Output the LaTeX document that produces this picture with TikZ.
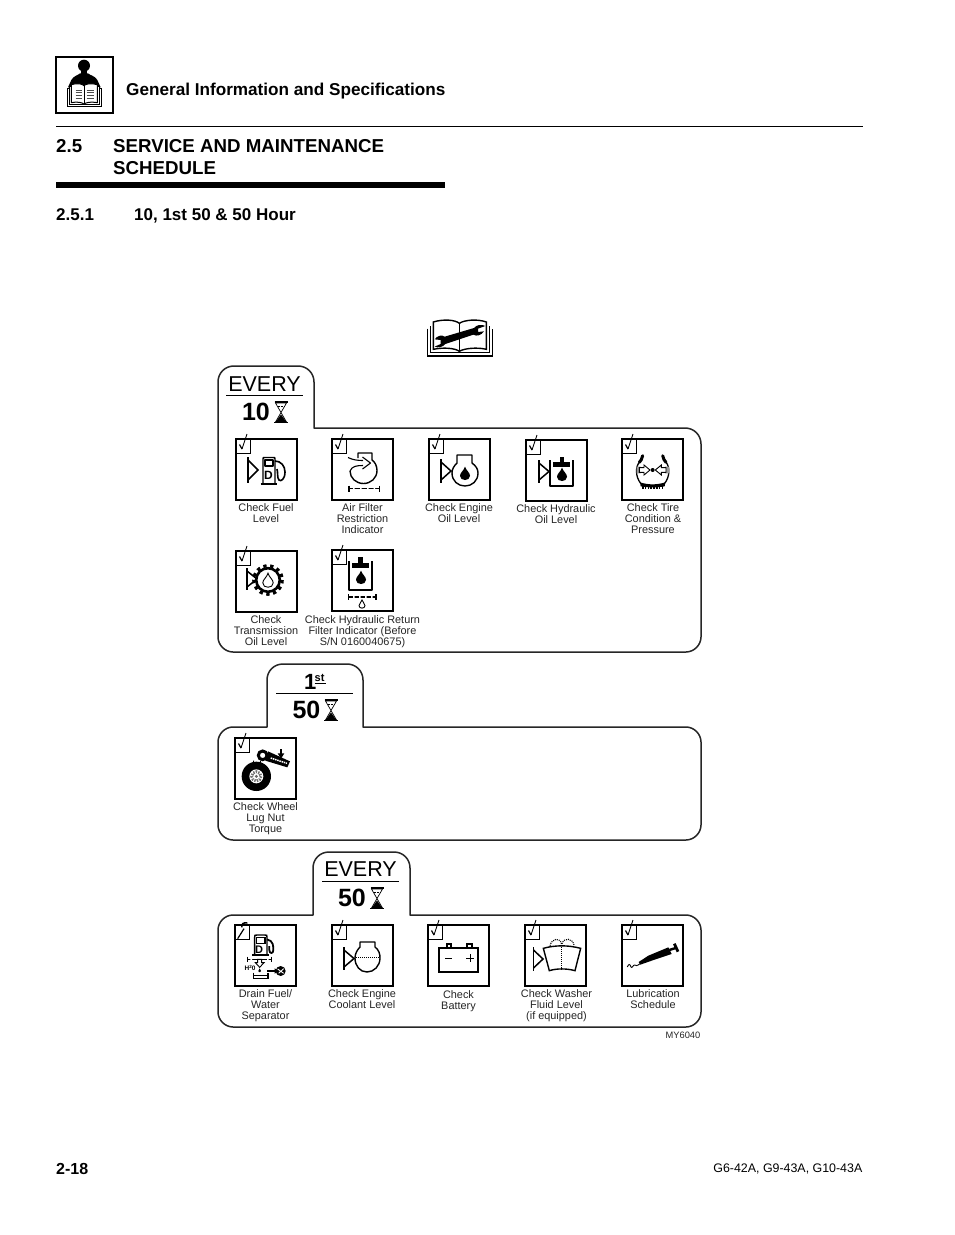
\documentclass[tikz,border=0pt]{standalone}
\usepackage{fontspec}
\setmainfont{Liberation Sans}
\newcommand{\fsz}[1]{\fontsize{#1}{#1}\selectfont}
\tikzset{
  panel/.style={draw=black!85,line width=1.5pt,line join=round},
  iframe/.style={draw=black,line width=1.7pt,fill=white,inner sep=0pt,minimum width=61pt,minimum height=61pt},
  iframeb/.style={iframe,line width=2.4pt},
  chkbox/.style={draw=black,line width=1pt,inner sep=0pt,minimum width=14pt,minimum height=14pt},
  captxt/.style={anchor=north,align=center,inner sep=0pt,text=black!85,font=\fontsize{10.9}{11}\selectfont},
  headtxt/.style={anchor=base west,inner sep=0pt,font=\bfseries\fsz{17}},
  ico/.style={line width=1.4pt,line cap=butt,line join=round},
  blk/.style={fill=black},
  hol/.style={draw=black,line width=0.9pt,fill=white}
}
% icon frame with check box: name, x, y, style
\newcommand{\iconbox}[4]{%
  \node[#4] (#1) at (#2+30.5,#3+30.5) {};
  \node[chkbox] (#1c) at (#2+7,#3+7) {};
}
\newcommand{\tick}[2]{%
  \draw[line width=1.2pt,line join=miter] (#1+3.5,#2+5.5) -- (#1+6,#2+10);
  \draw[line width=0.9pt] (#1+6,#2+10) -- (#1+11,#2-5);
}
\newcommand{\lvl}[4]{% x y1 y2 apex
  \draw[line width=1.8pt] (#1,#2) -- (#1,#3);
  \draw[line width=1.5pt,line join=miter] (#1,#2+3) -- (#4,{(#2+#3)/2}) -- (#1,#3-3);
}
\newcommand{\tear}[4]{%
  \path[#4,shift={(#1,#2)},scale=#3] (0,-1.5) .. controls (0.2,-0.7) and (1,-0.3) .. (1,0.35) .. controls (1,0.95) and (0.5,1.2) .. (0,1.2) .. controls (-0.5,1.2) and (-1,0.95) .. (-1,0.35) .. controls (-1,-0.3) and (-0.2,-0.7) .. (0,-1.5) -- cycle;
}
\newcommand{\hglass}[2]{%
  \draw[line width=1.1pt] (#1-6.5,#2) -- (#1+6.5,#2);
  \fill (#1-7,#2+19.5) rectangle (#1+7,#2+21);
  \draw[line width=0.7pt] (#1-5.5,#2+1) -- (#1+5.5,#2+1) -- (#1-5.5,#2+20) -- (#1+5.5,#2+20) -- cycle;
  \draw[line width=0.6pt,dash pattern=on .8pt off .8pt] (#1-3.5,#2+4) -- (#1+3.5,#2+4);
  \fill (#1,#2+12.5) -- (#1+5.5,#2+20) -- (#1-5.5,#2+20) -- cycle;
}
\begin{document}
\begin{tikzpicture}[x=1pt,y=-1pt]
\useasboundingbox[fill=white] (0,0) rectangle (954,1235);

% ---------- page header ----------
\node[draw=black,line width=1.2pt,minimum width=57pt,minimum height=56pt,inner sep=0pt] (hbox) at (84.5,85) {};
\begin{scope}[shift={(54,54)},scale=1/3]
  \fill (90,35) circle (18);
  \fill (42,100) -- (52,78) .. controls (58,66) and (72,64) .. (78,58) -- (102,58) .. controls (108,64) and (124,66) .. (130,78) -- (140,100) -- cycle;
  \fill (80,45) rectangle (100,60);
  \draw[line width=.7pt,fill=white] (40,103) rectangle (142,158);
  \draw[line width=.7pt,fill=white] (46,97) rectangle (136,152);
  \draw[line width=1pt,fill=white] (52,92) .. controls (70,86) and (85,90) .. (90,95) .. controls (95,90) and (110,86) .. (130,92) -- (130,146) .. controls (110,142) and (95,146) .. (90,150) .. controls (85,146) and (70,142) .. (52,146) -- cycle;
  \draw[line width=.9pt,black!70] (65,108) -- (83,108) (65,116) -- (83,116) (65,124) -- (83,124) (65,132) -- (83,132) (98,108) -- (120,108) (98,116) -- (120,116) (98,124) -- (120,124) (98,132) -- (120,132);
  \draw[line width=.7pt] (90,95) -- (90,150);
\end{scope}
\node[headtxt,font=\bfseries\fsz{17.15}] (t1) at (126,95) {General Information and Specifications};
\coordinate (r1a) at (56,126.5); \coordinate (r1b) at (862.5,126.5);
\draw[line width=0.9pt] (r1a) -- (r1b);
\node[headtxt,font=\bfseries\fsz{18.7}] (t2a) at (56,152) {2.5};
\node[headtxt,font=\bfseries\fsz{18.7}] (t2b) at (113,152) {SERVICE AND MAINTENANCE};
\node[headtxt,font=\bfseries\fsz{18.7}] (t2c) at (113,174.5) {SCHEDULE};
\fill (56,182) rectangle (445,187.5);
\node[headtxt,font=\bfseries\fsz{17}] (t3a) at (56,220.5) {2.5.1};
\node[headtxt,font=\bfseries\fsz{17}] (t3b) at (134,220.5) {10, 1st 50 \& 50 Hour};

% ---------- book + wrench ----------
\begin{scope}[shift={(424,316)},scale=1/3]
  \draw[line width=1.2pt,fill=white] (10,38) -- (10,120) -- (205,120) -- (205,38);
  \draw[line width=1pt,fill=white] (20,30) -- (20,110) -- (195,110) -- (195,30);
  \draw[line width=1.4pt,fill=white] (28,18) .. controls (60,8) and (95,12) .. (106,22) .. controls (120,12) and (160,8) .. (187,18) -- (187,100) .. controls (160,93) and (120,97) .. (106,106) .. controls (95,97) and (60,93) .. (28,100) -- cycle;
  \draw[line width=.9pt] (106,22) -- (106,106);
  \fill (32,70) .. controls (40,58) and (55,56) .. (62,62) -- (150,36) .. controls (158,26) and (172,24) .. (184,30) -- (162,38) -- (162,48) -- (180,46) .. controls (172,58) and (158,62) .. (148,56) -- (64,84) .. controls (56,94) and (42,96) .. (32,92) -- (50,84) -- (50,72) -- cycle;
\end{scope}

% ---------- panel 1 ----------
\draw[panel] (218,600) -- (218,382) .. controls (218,373) and (225,366) .. (234,366) -- (298,366) .. controls (307,366) and (314,373) .. (314,382) -- (314,428) -- (685,428) .. controls (694,428) and (701,435) .. (701,444) -- (701,637) .. controls (701,645) and (694,652) .. (686,652) -- (233,652) .. controls (225,652) and (218,645) .. (218,637) -- cycle;
\node[anchor=base,inner sep=0pt,font=\fsz{21.5}] (e1) at (264.5,391) {EVERY};
\draw[line width=1pt] (226,395.5) -- (303,395.5);
\node[anchor=base,inner sep=0pt,font=\bfseries\fsz{25}] (n10) at (256,420.5) {10};
\hglass{281}{402}

% ---------- panel 2 ----------
\draw[panel] (218,825) -- (218,742) .. controls (218,734) and (225,727) .. (233,727) -- (267,727) -- (267,680) .. controls (267,671) and (274,664) .. (283,664) -- (347,664) .. controls (356,664) and (363,671) .. (363,680) -- (363,727) -- (686,727) .. controls (694,727) and (701,734) .. (701,742) -- (701,825) .. controls (701,833) and (694,840) .. (686,840) -- (233,840) .. controls (225,840) and (218,833) .. (218,825) -- cycle;
\node[anchor=base west,inner sep=0pt,font=\bfseries\fsz{22}] (n1) at (304,689) {1};
\node[anchor=base west,inner sep=0pt,font=\bfseries\fsz{11}] (nst) at (314.5,681.5) {st};
\draw[line width=.9pt] (314.5,683.5) -- (325.5,683.5);
\draw[line width=1.2pt] (276,693.5) -- (353,693.5);
\node[anchor=base,inner sep=0pt,font=\bfseries\fsz{25}] (n50a) at (306.5,718.5) {50};
\hglass{331}{700}

% ---------- panel 3 ----------
\draw[panel] (218,1012) -- (218,930) .. controls (218,922) and (225,915) .. (233,915) -- (313,915) -- (313,868) .. controls (313,859) and (320,852) .. (329,852) -- (394,852) .. controls (403,852) and (410,859) .. (410,868) -- (410,915) -- (686,915) .. controls (694,915) and (701,922) .. (701,930) -- (701,1012) .. controls (701,1020) and (694,1027) .. (686,1027) -- (233,1027) .. controls (225,1027) and (218,1020) .. (218,1012) -- cycle;
\node[anchor=base,inner sep=0pt,font=\fsz{21.5}] (e3) at (360.5,876.5) {EVERY};
\draw[line width=1pt] (322,881.5) -- (399,881.5);
\node[anchor=base,inner sep=0pt,font=\bfseries\fsz{25}] (n50b) at (352,906.5) {50};
\hglass{377}{888}

% ---------- icon frames ----------
\iconbox{i1}{236}{439}{iframe}\tick{236}{439}
\iconbox{i2}{332}{439}{iframe}\tick{332}{439}
\iconbox{i3}{429}{439}{iframe}\tick{429}{439}
\iconbox{i4}{526}{440}{iframe}\tick{526}{440}
\iconbox{i5}{622}{439}{iframe}\tick{622}{439}
\iconbox{i6}{236}{551}{iframe}\tick{236}{551}
\iconbox{i7}{332}{550}{iframe}\tick{332}{550}
\iconbox{i8}{235}{738}{iframeb}\tick{235}{738}
\iconbox{i9}{235}{925}{iframeb}
\iconbox{i10}{332}{925}{iframe}\tick{332}{925}
\iconbox{i11}{428}{925}{iframeb}\tick{428}{925}
\iconbox{i12}{525}{925}{iframe}\tick{525}{925}
\iconbox{i13}{622}{925}{iframe}\tick{622}{925}

% 1 fuel
\lvl{248}{457}{483}{258}
\begin{scope}[ico]
  \draw (263,483) -- (263,459) .. controls (263,457.5) .. (265,457.5) -- (273,457.5) .. controls (275,457.5) .. (275,459) -- (275,483);
  \draw (265,460) rectangle (273,466);
  \draw[line width=2pt] (260.5,483.5) -- (277,483.5);
  \draw[line width=1.6pt] (275,461) .. controls (281,461) and (285,466) .. (285,472) .. controls (285,479) and (281,482) .. (279,480) .. controls (277,478) and (278,472) .. (277,469);
\end{scope}
\node[inner sep=0pt,font=\bfseries\fsz{12}] (d1) at (268.5,475) {D};

% 2 air filter
\begin{scope}[ico]
  \draw (350,471) .. controls (350,478) and (356,483.5) .. (363.5,483.5) .. controls (371,483.5) and (377,478) .. (377,470.5) .. controls (377,466) and (375,462) .. (372,460) -- (372,453) -- (358,453) -- (358,458);
  \draw[line width=1.1pt] (348,457.5) .. controls (353,460) and (358,460.5) .. (363,460.5);
  \draw[line width=1.1pt] (350,471) .. controls (352,466) and (357,465.5) .. (363,465.5);
  \draw[line width=1.1pt] (362.5,457) -- (370.5,463) -- (362.5,469);
  \draw[line width=1.2pt] (349,488.5) -- (379,488.5);
  \draw[line width=1.4pt] (349,485.5) -- (349,491.5) (379.5,485.5) -- (379.5,491.5);
\end{scope}
\fill[white] (353,486.5) rectangle (354.5,490.5) (360,486.5) rectangle (361.5,490.5) (367,486.5) rectangle (368.5,490.5) (373.5,486.5) rectangle (375,490.5);

% 3 engine oil
\lvl{441}{459}{483}{451}
\begin{scope}[ico]
  \draw (457,463) -- (457,455) -- (472,455) -- (472,463) .. controls (476,466) and (478,469) .. (478,473) .. controls (478,481) and (472,486) .. (465,486) .. controls (458,486) and (452,481) .. (452,473) .. controls (452,469) and (454,466) .. (457,463);
\end{scope}
\tear{465}{474}{5}{blk}

% 4 hydraulic
\lvl{539}{460}{483}{549}
\begin{scope}[ico]
  \draw (550,460) -- (550,486) -- (573,486) -- (573,460);
\end{scope}
\fill (553,462) rectangle (570,466.5);
\fill (559.5,456.5) rectangle (564,464);
\tear{562}{475}{5}{blk}

% 5 tire
\begin{scope}[shift={(620,435)},scale=1/3]
  \draw[line width=3pt,line cap=round] (68,62) .. controls (66,72) and (62,78) .. (58,82);
  \draw[line width=3pt,line cap=round] (128,62) .. controls (130,72) and (134,78) .. (138,82);
  \draw[line width=1.3pt] (58,82) .. controls (46,95) and (46,125) .. (62,145);
  \draw[line width=1.3pt] (138,82) .. controls (150,95) and (150,125) .. (134,145);
  \fill (60,142) .. controls (85,150) and (110,150) .. (136,142) -- (134,154) .. controls (110,158) and (85,158) .. (62,154) -- cycle;
  \draw[line width=3pt,dash pattern=on 1.6pt off 1.2pt] (66,158) -- (132,158);
  \fill[black!40] (50,95) rectangle (62,115) (135,95) rectangle (147,115);
  \draw[hol,fill=white] (58,98) -- (72,98) -- (72,90) -- (90,105) -- (72,120) -- (72,112) -- (58,112) -- cycle;
  \draw[hol,fill=white] (138,98) -- (124,98) -- (124,90) -- (106,105) -- (124,120) -- (124,112) -- (138,112) -- cycle;
  \fill (98,105) circle (6);
\end{scope}

% 6 transmission
\lvl{247}{568}{590}{257}
\draw[line width=3.2pt,dash pattern=on 3.3pt off 3.6pt] (268,580) circle (14.2);
\draw[line width=2.6pt,fill=white] (268,580) circle (11.8);
\tear{268}{581}{5.2}{hol}

% 7 hydraulic return
\begin{scope}[ico]
  \draw (349,561) -- (349,590) -- (372,590) -- (372,561);
  \draw[line width=1.1pt] (349,597) -- (376,597);
  \draw (348.5,594) -- (348.5,600) (376,594) -- (376,600);
\end{scope}
\fill (352,563) rectangle (369,567.5);
\fill (358,557) rectangle (363,565);
\tear{361}{578}{5}{blk}
\fill[white] (353,595) rectangle (354.5,599) (359,595) rectangle (360.5,599) (365,595) rectangle (366.5,599) (371,595) rectangle (372.5,599);
\tear{362}{604.5}{3}{hol}

% 8 wheel
\begin{scope}[shift={(232,730)},scale=1/3]
  \fill (73,139) circle (44);
  \fill[white] (73,139) circle (21);
  \draw[line width=2.8pt,black!55,dash pattern=on 1.4pt off 1.2pt] (73,139) circle (14);
  \fill[black!60] (73,139) circle (5);
  \fill (108,64) -- (174,94) -- (166,112) -- (100,92) -- cycle;
  \draw[line width=3pt,fill=white] (92,76) circle (13);
  \draw[white,line width=1.5pt,dash pattern=on 1.5pt off .8pt] (116,84) -- (165,100);
  \draw[line width=1.8pt] (147,58) -- (147,76);
  \fill (137,70) -- (157,70) -- (147,86) -- cycle;
  \draw[line width=.9pt] (65,92) -- (62,108) (85,92) -- (88,108);
  \fill (58,104) -- (67,104) -- (62,112) -- cycle (83,104) -- (92,104) -- (88,112) -- cycle;
\end{scope}

% 9 drain
\begin{scope}[shift={(232,920)},scale=1/3]
  \draw[line width=1.2pt] (17,56) -- (36,26);
  \draw[line width=1.5pt] (30,22) .. controls (26,12) and (36,6) .. (46,9);
  \draw[line width=1.4pt] (68,105) -- (68,52) .. controls (68,45) .. (75,45) -- (98,45) .. controls (105,45) .. (105,52) -- (105,105);
  \draw[line width=1.2pt] (74,52) rectangle (99,70);
  \draw[line width=1.9pt] (60,106) -- (112,106);
  \draw[line width=1.8pt] (105,58) .. controls (125,62) and (124,80) .. (124,90) .. controls (124,102) and (112,102) .. (112,90) -- (112,78);
  \draw[line width=1.1pt] (48,118) -- (118,118);
  \draw[line width=1.4pt] (47,110) -- (47,126) (118,110) -- (118,126);
  \fill[white] (55,115) rectangle (60,121) (105,115) rectangle (110,121);
  \draw[hol] (77,118) -- (89,118) -- (89,128) -- (96,128) -- (83,142) -- (70,128) -- (77,128) -- cycle;
  \tear{83}{152}{2.6}{hol}
  \draw[line width=1.1pt] (65,158) -- (65,176) -- (108,176) -- (108,158);
  \draw[line width=.8pt] (65,166) -- (108,166);
  \fill (105,150) rectangle (130,156);
  \fill (128,145) -- (140,153) -- (128,161) -- cycle;
  \fill (146,153) circle (15);
  \draw[white,line width=.9pt] (137,147) -- (155,160) (155,146) -- (140,160);
\end{scope}
\node[inner sep=0pt,font=\bfseries\fsz{11}] (d9) at (259,949.5) {D};
\node[inner sep=0pt,font=\bfseries\fsz{6.5}] (h2o) at (250,968) {H\raisebox{1.5pt}{\fsz{4.5}2}0};

% 10 coolant
\lvl{344}{947}{970}{354}
\begin{scope}[ico]
  \draw (360,947) -- (360,942) -- (375,942) -- (375,947) .. controls (379,950) and (380,954) .. (380,958) .. controls (380,966) and (374,972) .. (367,972) .. controls (360,972) and (355,966) .. (355,958) .. controls (355,954) and (357,950) .. (360,947);
  \draw[line width=.9pt,dash pattern=on 1pt off 1pt] (356,957) -- (379,957);
\end{scope}

% 11 battery
\draw[line width=1.2pt] (439,948) rectangle (478,972);
\draw[line width=1.2pt] (447,948) -- (447,944) -- (451,944) -- (451,948);
\draw[line width=1.2pt] (467,948) -- (467,944) -- (472,944) -- (472,948);
\draw[line width=1pt] (445,958) -- (452,958) (466,958) -- (474,958) (470,954) -- (470,962);

% 12 washer
\lvl{533.5}{947}{971}{543}
\begin{scope}[shift={(460,915)},scale=1/3]
  \draw[line width=1.4pt] (250,100) .. controls (285,90) and (325,90) .. (362,100) -- (345,167) .. controls (320,160) and (290,160) .. (268,167) -- cycle;
  \draw[line width=1.1pt,dash pattern=on 1pt off 1pt] (305,96) -- (305,165);
  \draw[line width=1.1pt,dash pattern=on 1pt off 1pt] (270,92) .. controls (275,70) and (300,65) .. (305,88) .. controls (312,65) and (338,70) .. (342,90);
\end{scope}

% 13 lube
\begin{scope}[shift={(460,915)},scale=1/3]
  \draw[line width=.9pt] (502,156) .. controls (506,146) and (510,146) .. (513,156) .. controls (516,162) and (520,148) .. (524,150) .. controls (528,152) and (530,154) .. (540,146);
  \fill (536,141) -- (565,122) -- (625,97) -- (635,117) -- (575,137) -- (541,149) -- cycle;
  \draw[line width=2.4pt] (628,105) -- (650,98);
  \draw[line width=2.8pt] (643,86) -- (654,110);
\end{scope}

% ---------- captions ----------
\node[captxt] (c1) at (266,503) {Check Fuel\\Level};
\node[captxt] (c2) at (362.5,503) {Air Filter\\Restriction\\Indicator};
\node[captxt] (c3) at (459,503) {Check Engine\\Oil Level};
\node[captxt] (c4) at (556,504) {Check Hydraulic\\Oil Level};
\node[captxt] (c5) at (653,503) {Check Tire\\Condition \&\\Pressure};
\node[captxt] (c6) at (266,615) {Check\\Transmission\\Oil Level};
\node[captxt] (c7) at (362.5,615) {Check Hydraulic Return\\Filter Indicator (Before\\S/N 0160040675)};
\node[captxt] (c8) at (265.5,802) {Check Wheel\\Lug Nut\\Torque};
\node[captxt] (c9) at (265.5,989) {Drain Fuel/\\Water\\Separator};
\node[captxt] (c10) at (362,989) {Check Engine\\Coolant Level};
\node[captxt] (c11) at (458.5,990) {Check\\Battery};
\node[captxt] (c12) at (556.5,989) {Check Washer\\Fluid Level\\(if equipped)};
\node[captxt] (c13) at (653,989) {Lubrication\\Schedule};
\node[anchor=base east,inner sep=0pt,text=black!85,font=\fsz{9.3}] (my) at (700.5,1038) {MY6040};

% ---------- footer ----------
\node[anchor=base west,inner sep=0pt,font=\bfseries\fsz{16}] (pg) at (56,1174) {2-18};
\node[anchor=base east,inner sep=0pt,font=\fsz{12.4}] (md) at (862.5,1172.5) {G6-42A, G9-43A, G10-43A};
\end{tikzpicture}
\end{document}
